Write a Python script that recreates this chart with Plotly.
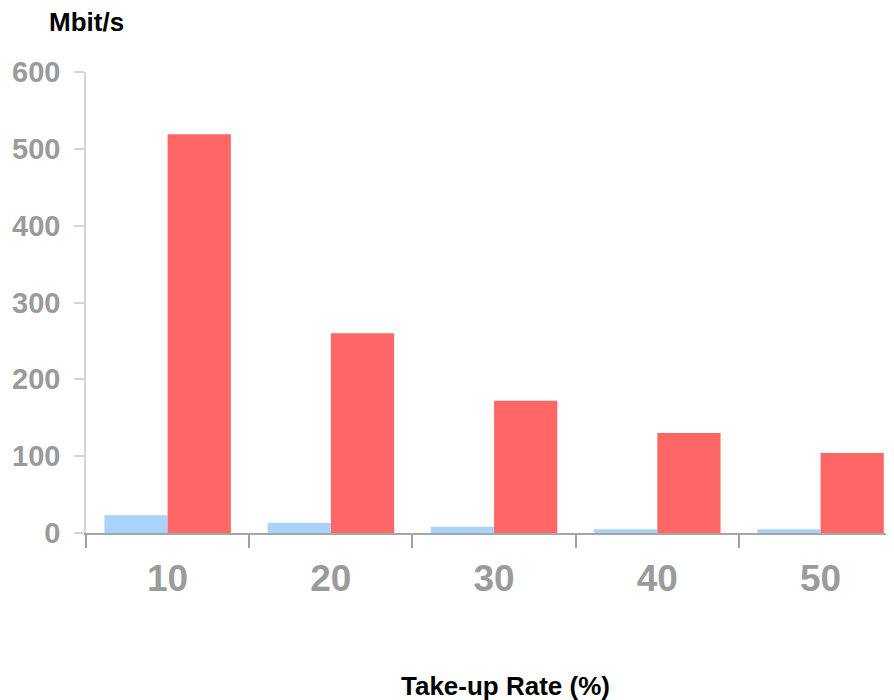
import plotly.graph_objects as go

categories = ["10", "20", "30", "40", "50"]
blue_values = [23, 13, 8, 5, 5]
red_values = [519, 260, 172, 130, 104]
y_ticks = [0, 100, 200, 300, 400, 500, 600]

FONT = "Arial, Liberation Sans, sans-serif"
GREY = "#9B9B9B"

fig = go.Figure()
fig.add_trace(go.Bar(x=categories, y=blue_values, name="blue",
                     marker=dict(color="#A9D3FA", line=dict(width=0))))
fig.add_trace(go.Bar(x=categories, y=red_values, name="red",
                     marker=dict(color="#FF6767", line=dict(width=0))))

fig.update_layout(
    width=894, height=700,
    margin=dict(l=78, r=8, t=64, b=175, autoexpand=False),
    paper_bgcolor="white", plot_bgcolor="white",
    barmode="group", bargap=0.225, bargroupgap=0,
    showlegend=False,
    font=dict(family=FONT),
    xaxis=dict(
        type="category", range=[-0.5, 4.45], automargin=False,
        showgrid=False, zeroline=False,
        showline=True, linecolor="#A6A6A6", linewidth=2,
        ticks="outside", tickson="boundaries", ticklen=13, tickwidth=2, tickcolor="#A0A0A0",
        tickfont=dict(family=FONT, size=37, color=GREY, weight="bold"),
        ticklabelstandoff=12,
    ),
    yaxis=dict(
        range=[0, 600], tickvals=y_ticks, automargin=False,
        showgrid=False, zeroline=False,
        showline=True, linecolor="#D4D4D4", linewidth=1.5,
        ticks="outside", ticklen=10, tickwidth=1.5, tickcolor="#D4D4D4",
        tickfont=dict(family=FONT, size=29, color=GREY, weight="bold"),
        ticklabelstandoff=8,
    ),
    annotations=[
        dict(text="<b>Mbit/s</b>", xref="paper", yref="paper",
             x=-0.0483, y=1.108, xanchor="left", yanchor="middle",
             showarrow=False, font=dict(family=FONT, size=26, color="black")),
        dict(text="<b>Take-up Rate (%)</b>", xref="paper", yref="paper",
             x=0.5186, y=-0.332, xanchor="center", yanchor="middle",
             showarrow=False, font=dict(family=FONT, size=26, color="black")),
    ],
)

fig.write_html("out.html")
